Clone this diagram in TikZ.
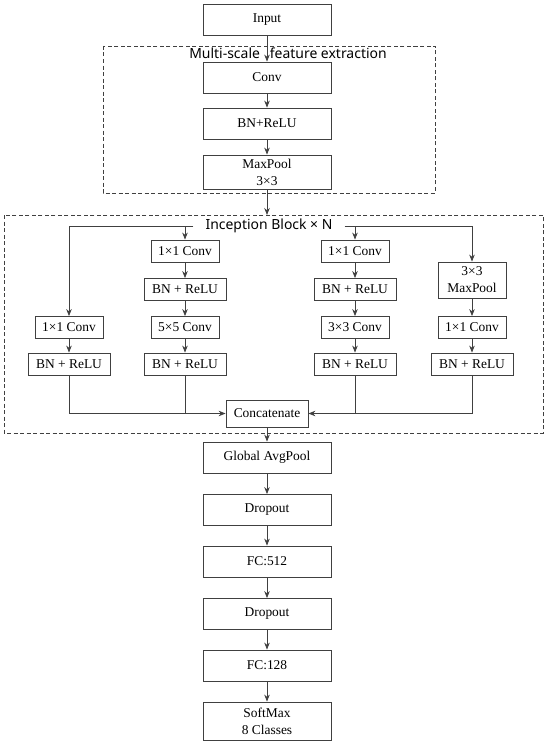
\documentclass[tikz,border=0pt]{standalone}
\usepackage{fontspec}
\setmainfont{Liberation Serif}
\newfontfamily\labelfont{Noto Sans}
\usepackage{tikz}
\usetikzlibrary{arrows.meta}
\definecolor{edgegray}{HTML}{404040}

\begin{document}
\begin{tikzpicture}[x=1bp, y=-1bp, >={Stealth[length=7bp,width=5.5bp]},
    box/.style={draw=edgegray, line width=0.8bp, inner sep=0pt, align=center,
      font=\fontsize{13.5}{17}\selectfont},
    mainbox/.style={box, minimum width=128bp, minimum height=31bp},
    smallbox/.style={box, minimum width=68bp, minimum height=22bp},
    widebox/.style={box, minimum width=82bp, minimum height=22bp},
    conn/.style={draw=edgegray, line width=0.8bp},
    frame/.style={draw=edgegray, line width=0.8bp, dash pattern=on 4bp off 2.5bp},
    title/.style={font=\labelfont\fontsize{14}{16}\selectfont, inner sep=0pt}]
  \useasboundingbox (0,0) rectangle (550,744);

  % stem
  \draw[frame] (103,46) rectangle (435,193);
  \node[title] (msfe) at (288,53) {Multi-scale\hspace{0.45em} feature extraction};
  \node[mainbox] (input) at (267,19.5) {Input};
  \node[mainbox] (conv) at (267,77.5) {Conv};
  \node[mainbox] (bnrelu) at (267,123.5) {BN+ReLU};
  \node[mainbox, minimum height=34bp] (maxpool) at (267,172) {MaxPool\\3×3};
  \foreach \a/\b in {input/conv, conv/bnrelu}
    \draw[conn,->] (\a) -- (\b);
  \draw[conn,->] (bnrelu) -- (maxpool);

  % inception block
  \draw[frame] (4,215) rectangle (543,433);
  \coordinate (blocktop) at (267,215);
  \draw[conn,->] (maxpool) -- (blocktop);
  \node[title, inner xsep=12bp] (incp) at (269,226) {Inception Block × N};

  \node[smallbox] (b1c) at (69,327.5) {1×1 Conv};
  \node[widebox] (b1bn) at (69,364) {BN + ReLU};
  \node[smallbox] (b2c1) at (185,251) {1×1 Conv};
  \node[widebox] (b2bn1) at (185,289.5) {BN + ReLU};
  \node[smallbox] (b2c5) at (185,327.5) {5×5 Conv};
  \node[widebox] (b2bn2) at (185,364) {BN + ReLU};
  \node[smallbox] (b3c1) at (355,251) {1×1 Conv};
  \node[widebox] (b3bn1) at (355,289.5) {BN + ReLU};
  \node[smallbox] (b3c3) at (355,327.5) {3×3 Conv};
  \node[widebox] (b3bn2) at (355,364) {BN + ReLU};
  \node[smallbox, minimum height=36bp] (b4mp) at (472,280) {3×3\\MaxPool};
  \node[smallbox] (b4c) at (472,327.5) {1×1 Conv};
  \node[widebox] (b4bn) at (472,364) {BN + ReLU};
  \node[widebox, minimum height=27bp] (concat) at (267,413.5) {Concatenate};

  \draw[conn,->] (incp.west) -| (b1c.north);
  \draw[conn,->] (incp.west -| b2c1.north) -- (b2c1.north);
  \draw[conn,->] (incp.east) -| (b4mp.north);
  \draw[conn,->] (incp.east -| b3c1.north) -- (b3c1.north);
  \foreach \a/\b in {b1c/b1bn, b2c1/b2bn1, b2bn1/b2c5, b2c5/b2bn2,
                     b3c1/b3bn1, b3bn1/b3c3, b3c3/b3bn2, b4mp/b4c, b4c/b4bn}
    \draw[conn,->] (\a) -- (\b);
  \draw[conn,->] (b1bn) |- (concat.west);
  \draw[conn] (b2bn2) -- (b2bn2 |- concat.west);
  \draw[conn,->] (b4bn) |- (concat.east);
  \draw[conn] (b3bn2) -- (b3bn2 |- concat.east);

  % head
  \foreach \n/\y/\t in {gap/457.5/Global AvgPool, dropa/510/Dropout,
                        fca/561.5/FC:512, dropb/614/Dropout, fcb/665.5/FC:128}
    \node[mainbox] (\n) at (267,\y) {\t};
  \node[mainbox, minimum height=38bp] (softmax) at (267,721) {SoftMax\\8 Classes};
  \foreach \a/\b in {concat/gap, gap/dropa, dropa/fca, fca/dropb, dropb/fcb, fcb/softmax}
    \draw[conn,->] (\a) -- (\b);
\end{tikzpicture}
\end{document}
